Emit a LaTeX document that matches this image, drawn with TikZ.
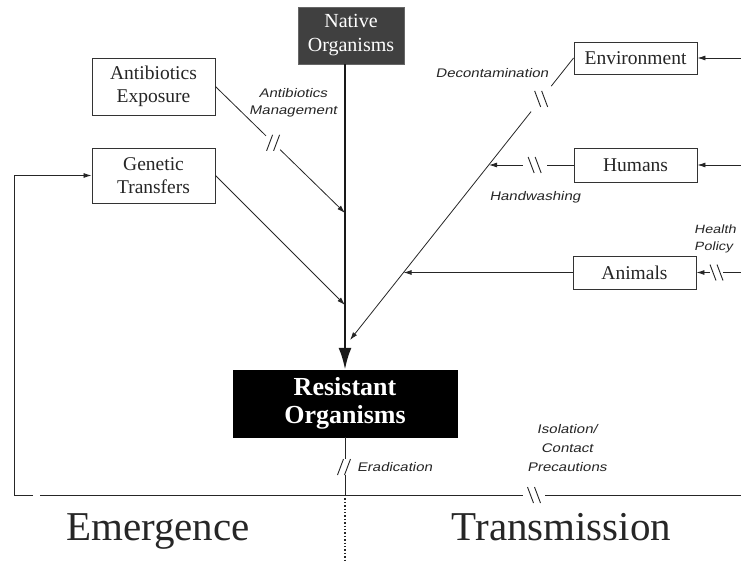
\documentclass[tikz,border=0pt]{standalone}
\usepackage{fontspec}
\setmainfont{Liberation Serif}
\newfontfamily\labfont{Liberation Sans}[FakeStretch=1.2,FakeSlant=0.2]
\usetikzlibrary{arrows.meta,calc}

\begin{document}
\begin{tikzpicture}[x=1pt,y=-1pt,
  box/.style={draw=black!80,line width=0.9pt,fill=white,inner sep=0pt,minimum width=123pt,align=center,font=\fontsize{19.5}{23}\selectfont,text=black!85},
  lab/.style={align=center,inner sep=0pt,font=\labfont\fontsize{12.5}{17}\selectfont,text=black!85},
  big/.style={inner sep=0pt,font=\fontsize{41}{41}\selectfont,anchor=base,text=black!85},
  conn/.style={draw=black!85,line width=0.8pt},
  arr/.style={conn,-{Latex[length=8pt,width=5pt]}},
  marks/.style={draw=black!85,line width=0.9pt},
  dsl/.pic={\draw[marks] (-6.5,8)--(-0.5,-8) (0.5,8)--(6.5,-8);},
  dbs/.pic={\draw[marks] (-6.5,-8)--(-0.5,8) (0.5,-8)--(6.5,8);}
]
\useasboundingbox (0,0) rectangle (741,561);
\clip (0,0) rectangle (741,561);

% boxes
\node[box,minimum height=57pt] (ab) at (153.5,86.5) {Antibiotics\\Exposure};
\node[box,minimum height=55pt] (gt) at (153.5,175.5) {Genetic\\Transfers};
\node[box,minimum height=32pt] (env) at (635.5,58) {Environment};
\node[box,minimum height=34pt] (hum) at (635.5,165) {Humans};
\node[box,minimum height=33pt] (ani) at (634.5,272.5) {Animals};
\node[draw=black!60,fill=black!75,text=white,minimum width=106pt,minimum height=57pt,inner sep=0pt,align=center,font=\fontsize{20}{24}\selectfont] (nat) at (351,35.5) {Native\\Organisms};
\node[draw=black,fill=black,text=white,minimum width=224pt,minimum height=67pt,inner sep=0pt,align=center,font=\bfseries\fontsize{26}{28}\selectfont] (res) at (345,403.5) {Resistant\\Organisms};

% coordinates
\coordinate (t1) at (345,213);
\coordinate (t2) at (345,305);
\coordinate (t3) at (350,340);
\coordinate (t4) at (489,165);
\coordinate (t5) at (403.6,272.5);
\coordinate (e1) at (741,58);
\coordinate (e2) at (741,165);
\coordinate (e3) at (741,272.5);
\coordinate (cb) at (14,495);
\coordinate (bl1) at (33,495);
\coordinate (bl2) at (40,495);
\coordinate (bm1) at (523,495);
\coordinate (bm2) at (545,495);
\coordinate (br) at (741,495);
\coordinate (bx) at (345,495);
\coordinate (bend) at (345,561);
\coordinate (eg1) at (345,459);
\coordinate (eg2) at (345,475);

% main vertical
\draw[line width=2.6pt,draw=black!90,-{Latex[length=22pt,width=13pt]}] (nat.south -| res.north) -- (res.north);

% antibiotics
\draw[conn] (ab.east) -- ($(ab.east)!0.39!(t1)$);
\pic at ($(ab.east)!0.445!(t1)$) {dsl};
\draw[arr] ($(ab.east)!0.5!(t1)$) -- (t1);

% genetic
\draw[arr] (gt.east) -- (t2);

% environment diagonal
\draw[conn] (env.west) -- ($(env.west)!0.10!(t3)$);
\pic at ($(env.west)!0.145!(t3)$) {dbs};
\draw[arr] ($(env.west)!0.19!(t3)$) -- (t3);

% humans
\draw[conn] (hum.west) -- ($(hum.west)!0.31!(t4)$);
\pic at ($(hum.west)!0.46!(t4)$) {dbs};
\draw[arr] ($(hum.west)!0.6!(t4)$) -- (t4);

% animals
\draw[arr] (ani.west) -- (t5);

% from right
\draw[arr] (e1) -- (env.east);
\draw[arr] (e2) -- (hum.east);
\draw[conn] (e3) -- ($(e3)!0.40!(ani.east)$);
\pic at ($(e3)!0.55!(ani.east)$) {dbs};
\draw[arr] ($(e3)!0.70!(ani.east)$) -- (ani.east);

% feedback and bottom line
\draw[arr] (bl1) -- (cb) |- (gt.west);
\draw[conn] (bl2) -- (bm1);
\pic at (534,495) {dbs};
\draw[conn] (bm2) -- (br);

% eradication
\draw[conn] (res.south) -- (eg1);
\pic at (344,467) {dsl};
\draw[conn] (eg2) -- (bx);
\draw[line width=1.4pt,draw=black!85,dash pattern=on 1.4pt off 2pt] (bx) -- (bend);

% labels
\node[lab] (lam) at (293,103) {Antibiotics\\Management};
\node[lab] (ldec) at (492,73) {Decontamination};
\node[lab] (lhw) at (535,197) {Handwashing};
\node[lab,align=left,anchor=west,font=\labfont\fontsize{12}{17}\selectfont] (lhp) at (694,239) {Health\\Policy};
\node[lab,font=\labfont\fontsize{12.5}{19}\selectfont] (liso) at (567,448) {Isolation/\\Contact\\Precautions};
\node[lab,anchor=west] (lerad) at (357,467) {Eradication};
\node[big] (em) at (158,540) {Emergence};
\node[big] (tr) at (561.5,540) {Transmission};
\end{tikzpicture}
\end{document}
